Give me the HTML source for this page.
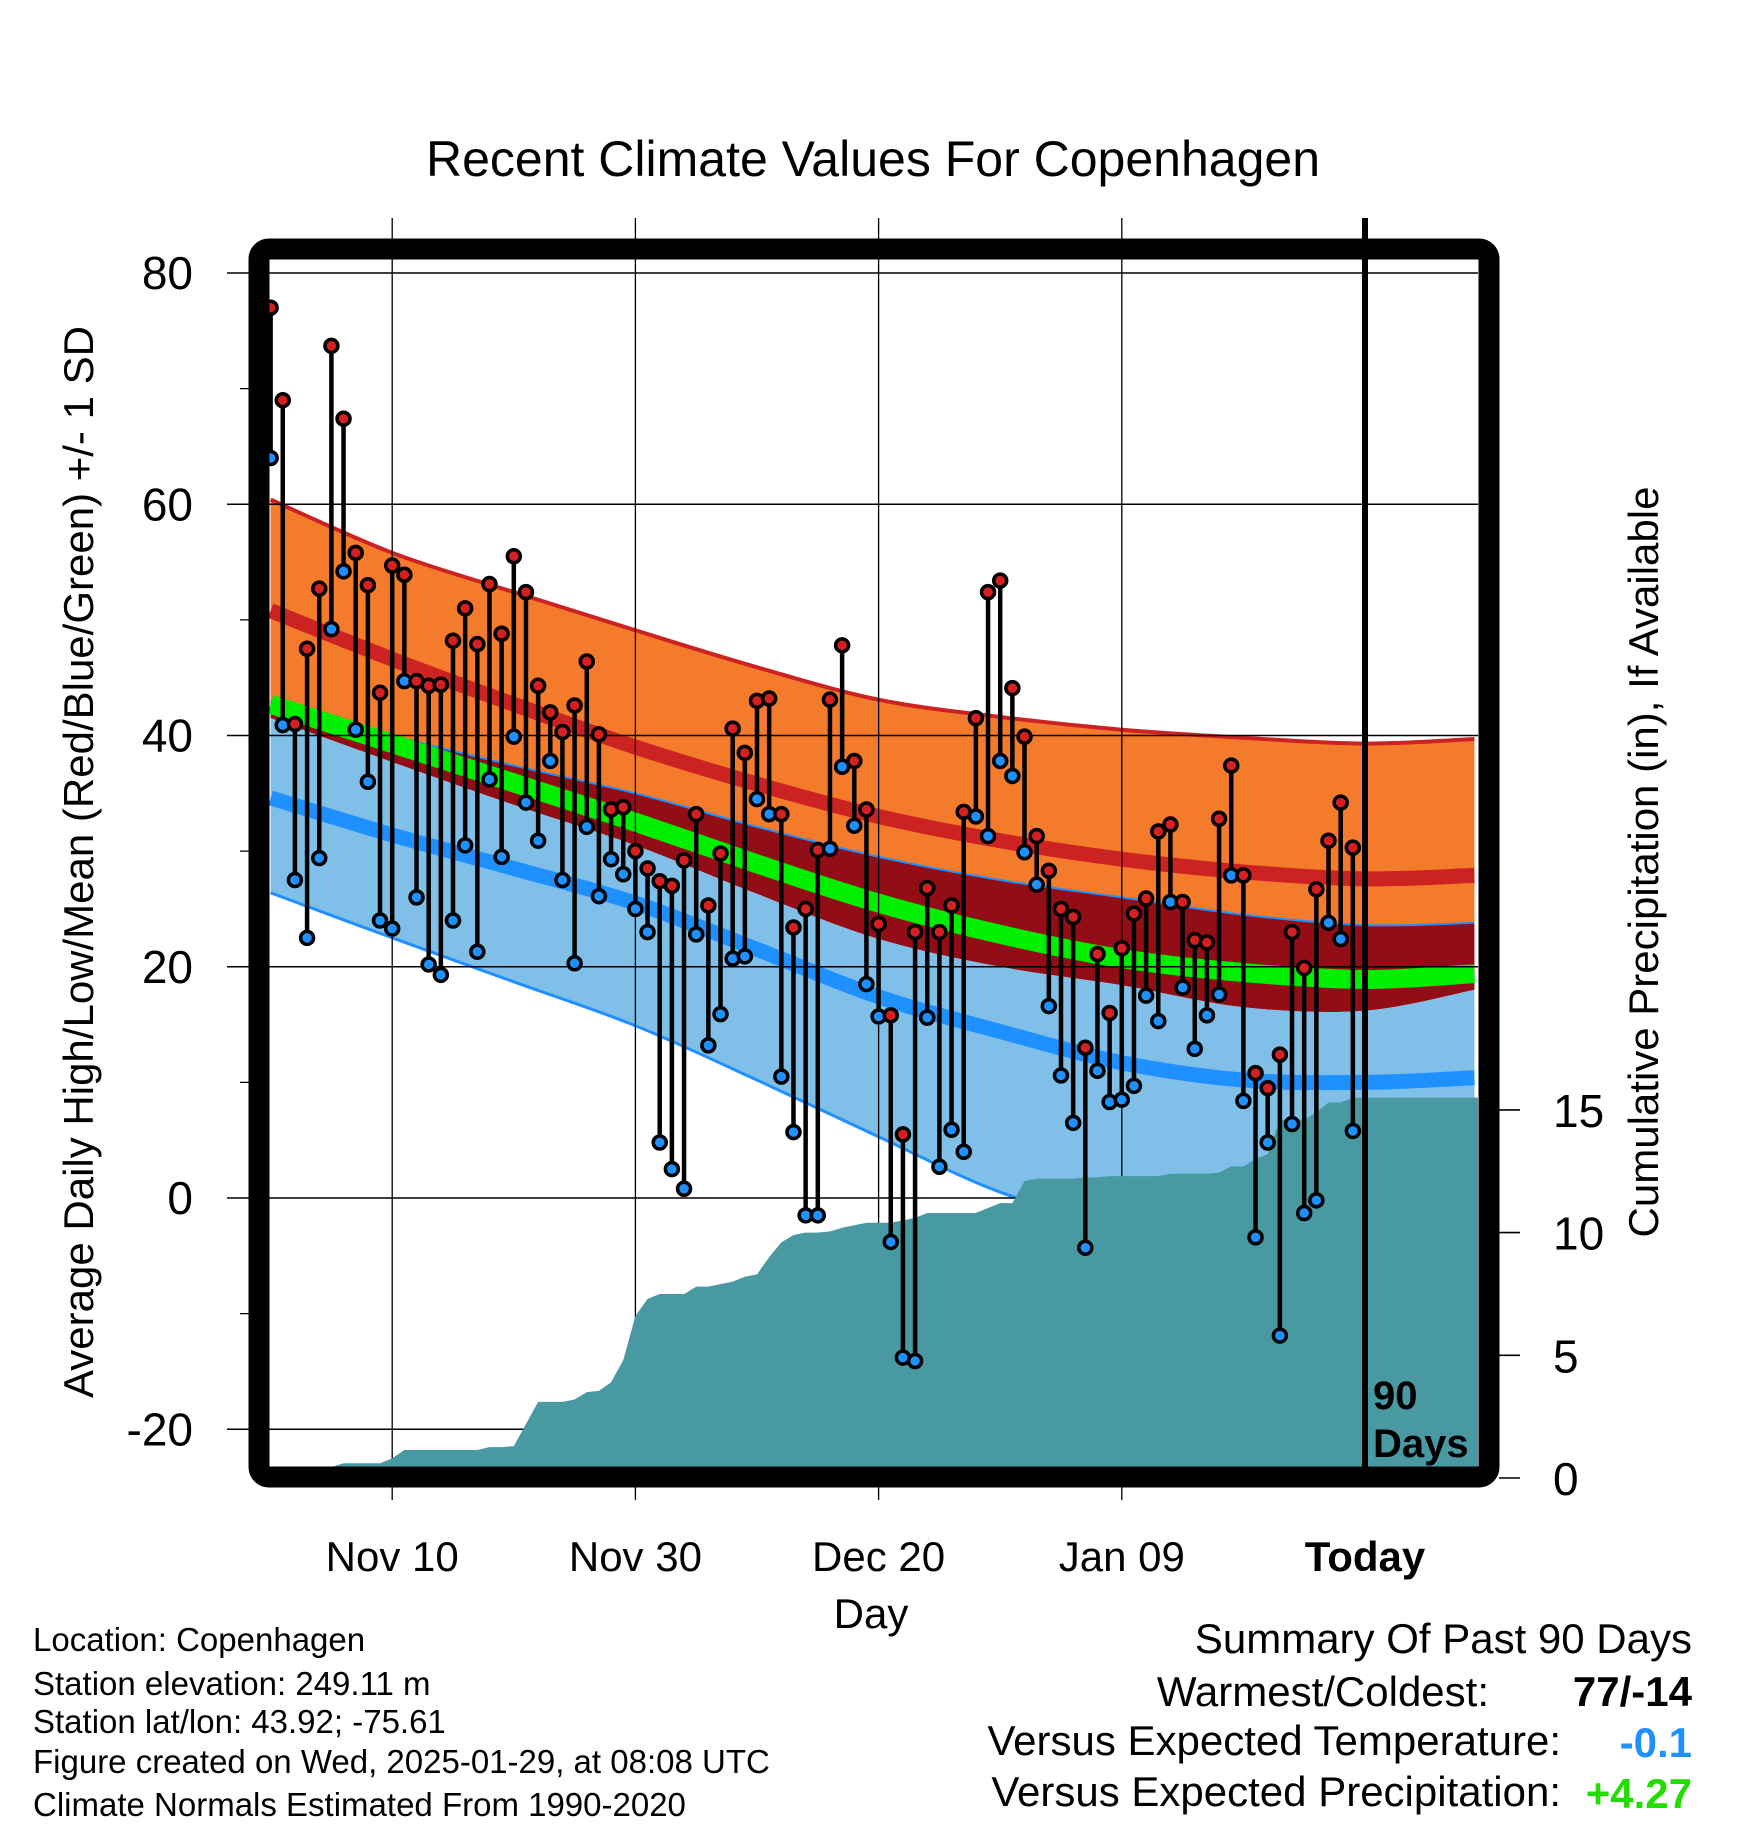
<!DOCTYPE html>
<html><head><meta charset="utf-8"><style>
html,body{margin:0;padding:0;background:#fff;}
svg{display:block;font-family:"Liberation Sans",Arial,sans-serif;}
</style></head><body>
<svg id="chart" width="1748" height="1828" viewBox="0 0 1748 1828" xmlns="http://www.w3.org/2000/svg">
<defs><clipPath id="plotclip"><rect x="269" y="260" width="1209" height="1208"/></clipPath></defs>
<text x="873" y="176" font-size="50" text-anchor="middle">Recent Climate Values For Copenhagen</text>
<g id="bands" clip-path="url(#plotclip)"></g>
<g id="grid"></g>
<g id="precip" clip-path="url(#plotclip)"></g>
<g id="marks" clip-path="url(#plotclip)"></g>
<g id="frame"></g>
<g id="axes"></g>
<text transform="translate(93,862) rotate(-90)" font-size="42" text-anchor="middle">Average Daily High/Low/Mean (Red/Blue/Green) +/- 1 SD</text>
<text transform="translate(1658,862) rotate(-90)" font-size="42" text-anchor="middle">Cumulative Precipitation (in), If Available</text>
<text x="871" y="1628" font-size="42" text-anchor="middle">Day</text>
<g font-size="33">
<text x="33" y="1651">Location: Copenhagen</text>
<text x="33" y="1695">Station elevation: 249.11 m</text>
<text x="33" y="1733">Station lat/lon: 43.92; -75.61</text>
<text x="33" y="1773">Figure created on Wed, 2025-01-29, at 08:08 UTC</text>
<text x="33" y="1816">Climate Normals Estimated From 1990-2020</text>
</g>
<g font-size="42">
<text x="1692" y="1653" text-anchor="end">Summary Of Past 90 Days</text>
<text x="1489" y="1706" text-anchor="end">Warmest/Coldest:</text>
<text x="1692" y="1706" text-anchor="end" font-weight="bold">77/-14</text>
<text x="1561" y="1755" text-anchor="end">Versus Expected Temperature:</text>
<text x="1692" y="1757" text-anchor="end" font-weight="bold" fill="#1e90ff">-0.1</text>
<text x="1561" y="1806" text-anchor="end">Versus Expected Precipitation:</text>
<text x="1692" y="1808" text-anchor="end" font-weight="bold" fill="#22dd00">+4.27</text>
</g>
</svg>
<script>
const highs=[77,69,41,47.5,52.7,73.7,67.4,55.8,53,43.7,54.7,53.9,44.7,44.3,44.4,48.2,51,47.9,53.1,48.8,55.5,52.4,44.3,42,40.3,42.6,46.4,40.1,33.6,33.8,30,28.5,27.4,27,29.2,33.2,25.3,29.8,40.6,38.5,43,43.2,33.2,23.4,25,30.1,43.1,47.8,37.8,33.6,23.7,15.8,5.5,23,26.8,23,25.3,33.4,41.5,52.4,53.4,44.1,39.9,31.3,28.3,25,24.3,13,21.1,16,21.6,24.6,25.9,31.7,32.3,25.6,22.3,22.1,32.8,37.4,27.9,10.8,9.5,12.4,23,19.9,26.7,30.9,34.2,30.3];
const lows=[64,40.9,27.5,22.5,29.4,49.2,54.2,40.5,36,24,23.3,44.7,26,20.2,19.3,24,30.5,21.3,36.2,29.5,39.9,34.2,30.9,37.8,27.5,20.3,32.1,26.1,29.3,28,25,23,4.8,2.5,0.8,22.8,13.2,15.9,20.7,20.9,34.5,33.2,10.5,5.7,-1.5,-1.5,30.2,37.3,32.2,18.5,15.7,-3.8,-13.8,-14.1,15.6,2.7,5.9,4,33,31.3,37.8,36.5,29.9,27.1,16.6,10.6,6.5,-4.3,11,8.3,8.5,9.7,17.5,15.3,25.6,18.2,12.9,15.8,17.6,27.9,8.4,-3.4,4.8,-11.9,6.4,-1.3,-0.2,23.8,22.4,5.8];
const precipCum=[0.3,0.35,0.4,0.4,0.45,0.45,0.6,0.6,0.6,0.6,0.8,1.14,1.14,1.14,1.14,1.14,1.14,1.14,1.26,1.26,1.3,2.2,3.1,3.1,3.1,3.2,3.5,3.55,3.9,4.8,6.6,7.3,7.5,7.5,7.5,7.8,7.8,7.9,8.0,8.2,8.3,9.0,9.6,9.9,10.0,10.0,10.05,10.2,10.3,10.4,10.4,10.4,10.5,10.6,10.8,10.8,10.8,10.8,10.8,11.0,11.2,11.2,12.1,12.2,12.2,12.2,12.2,12.25,12.25,12.3,12.3,12.3,12.3,12.3,12.4,12.4,12.4,12.4,12.45,12.7,12.7,13.0,13.2,14.6,14.6,14.6,14.9,15.3,15.3,15.5];
const normDays=[0,10,20,30,40,50,60,70,80,90,99];
const hiSDup=[60.4,55.8,52.4,49.1,45.9,43.1,41.6,40.5,39.8,39.3,39.7];
const hiMean=[50.8,46.6,42.7,39.0,35.8,33.0,30.9,29.3,28.2,27.6,27.9];
const hiSDdn=[43.0,40.0,37.4,35.0,32.1,29.5,27.5,26.0,24.5,23.6,23.8];
const avgMean=[42.7,39.3,35.9,32.5,28.9,25.5,22.8,20.7,19.5,18.9,19.4];
const loSDup=[41.5,37.7,34.0,30.5,26.3,22.4,20.0,18.4,16.5,16.2,18.0];
const loMean=[34.6,31.4,28.5,25.5,21.5,17.4,14.4,11.7,10.2,10.0,10.4];
const loSDdn=[26.4,22.5,18.7,14.9,10.2,5.3,0.5,-2.5,-4.0,-4.2,-3.5];
const yTicks=[80,60,40,20,0,-20];
const y2Ticks=[0,5,10,15];
const xTickDays=[10,30,50,70,90];
const xTickLabels=["Nov 10","Nov 30","Dec 20","Jan 09","Today"];

const NS="http://www.w3.org/2000/svg";
const xs=d=>270.6+12.16*d;
const ys=t=>1198-t*11.5625;
const yp=p=>1478-p*24.54;
function mk(tag,attrs,parent){const e=document.createElementNS(NS,tag);for(const k in attrs)e.setAttribute(k,attrs[k]);parent.appendChild(e);return e;}
function curvePts(vals){return normDays.map((d,i)=>[xs(d),ys(vals[i])]);}
function crPath(pts,start){let s=start?`M${pts[0][0]},${pts[0][1]}`:`L${pts[0][0]},${pts[0][1]}`;
 for(let i=0;i<pts.length-1;i++){const p0=pts[Math.max(0,i-1)],p1=pts[i],p2=pts[i+1],p3=pts[Math.min(pts.length-1,i+2)];
  const c1=[p1[0]+(p2[0]-p0[0])/6,p1[1]+(p2[1]-p0[1])/6],c2=[p2[0]-(p3[0]-p1[0])/6,p2[1]-(p3[1]-p1[1])/6];
  s+=`C${c1[0]},${c1[1]} ${c2[0]},${c2[1]} ${p2[0]},${p2[1]}`;}
 return s;}
function band(top,bot){return crPath(curvePts(top),true)+crPath(curvePts(bot).reverse(),false)+"Z";}
const bands=document.getElementById('bands');
let e;
e=mk('path',{d:band(hiSDup,hiSDdn),fill:'#f47b2c'},bands);


e=mk('path',{d:band(hiSDdn,loSDup),fill:'#920d15'},bands);


e=mk('path',{d:band(loSDup,loSDdn),fill:'#80c0e8'},bands);


const lineSpecs=[[hiSDup,'#cc2222',4,'high-plus-sd-line'],[hiMean,'#cc2222',15,'normal-high-line'],[hiSDdn,'#1e90ff',2,'high-minus-sd-line'],[avgMean,'#00ee00',19,'normal-mean-line'],[loMean,'#1e90ff',15,'normal-low-line'],[loSDdn,'#1e90ff',3,'low-minus-sd-line']];
for(const s of lineSpecs){e=mk('path',{d:crPath(curvePts(s[0]),true),fill:'none',stroke:s[1],'stroke-width':s[2]},bands);

}

const grid=document.getElementById('grid');
for(const t of yTicks){e=mk('line',{x1:227,x2:1478,y1:ys(t),y2:ys(t),stroke:'#000','stroke-width':1.6},grid);

}
for(let t=-20;t<=80;t+=10){if(t%20){e=mk('line',{x1:240,x2:260,y1:ys(t),y2:ys(t),stroke:'#000','stroke-width':1.2},grid);

}}
for(let i=0;i<xTickDays.length-1;i++){e=mk('line',{x1:xs(xTickDays[i]),x2:xs(xTickDays[i]),y1:218,y2:1500,stroke:'#000','stroke-width':1.3},grid);

}

const pg=document.getElementById('precip');
let pd=`M${xs(0)},1480`;
precipCum.forEach((p,i)=>{pd+=`L${xs(i)},${yp(p)}`;});
pd+=`L1480,${yp(precipCum[precipCum.length-1])}L1480,1480Z`;
e=mk('path',{d:pd,fill:'#4899a2'},pg);



const mg=document.getElementById('marks');
highs.forEach((h,i)=>{e=mk('line',{x1:xs(i),x2:xs(i),y1:ys(h),y2:ys(lows[i]),stroke:'#000','stroke-width':4.5},mg);

});
highs.forEach((h,i)=>{e=mk('circle',{cx:xs(i),cy:ys(lows[i]),r:6.5,fill:'#1e90ff',stroke:'#000','stroke-width':3.5},mg);


e=mk('circle',{cx:xs(i),cy:ys(h),r:6.5,fill:'#d42020',stroke:'#000','stroke-width':3.5},mg);

});

const fr=document.getElementById('frame');
e=mk('line',{x1:xs(90),x2:xs(90),y1:218,y2:1482,stroke:'#000','stroke-width':6},fr);


e=mk('text',{x:1373,y:1409,'font-size':40,'font-weight':'bold'},fr);e.textContent='90';


e=mk('text',{x:1373,y:1457,'font-size':40,'font-weight':'bold'},fr);e.textContent='Days';


e=mk('rect',{x:259,y:249,width:1230,height:1228,rx:10,fill:'none',stroke:'#000','stroke-width':21},fr);



const ax=document.getElementById('axes');
for(const t of yTicks){e=mk('text',{x:193,y:ys(t)+16,'font-size':46,'text-anchor':'end'},ax);e.textContent=String(t);

}
for(const p of y2Ticks){e=mk('line',{x1:1499,x2:1520,y1:yp(p),y2:yp(p),stroke:'#000','stroke-width':1.6},ax);


e=mk('text',{x:1553,y:yp(p)+17,'font-size':46},ax);e.textContent=String(p);

}
xTickDays.forEach((d,i)=>{e=mk('text',{x:xs(d),y:1571,'font-size':42,'text-anchor':'middle','font-weight':i===4?'bold':'normal'},ax);e.textContent=xTickLabels[i];

});
</script>
</body></html>
